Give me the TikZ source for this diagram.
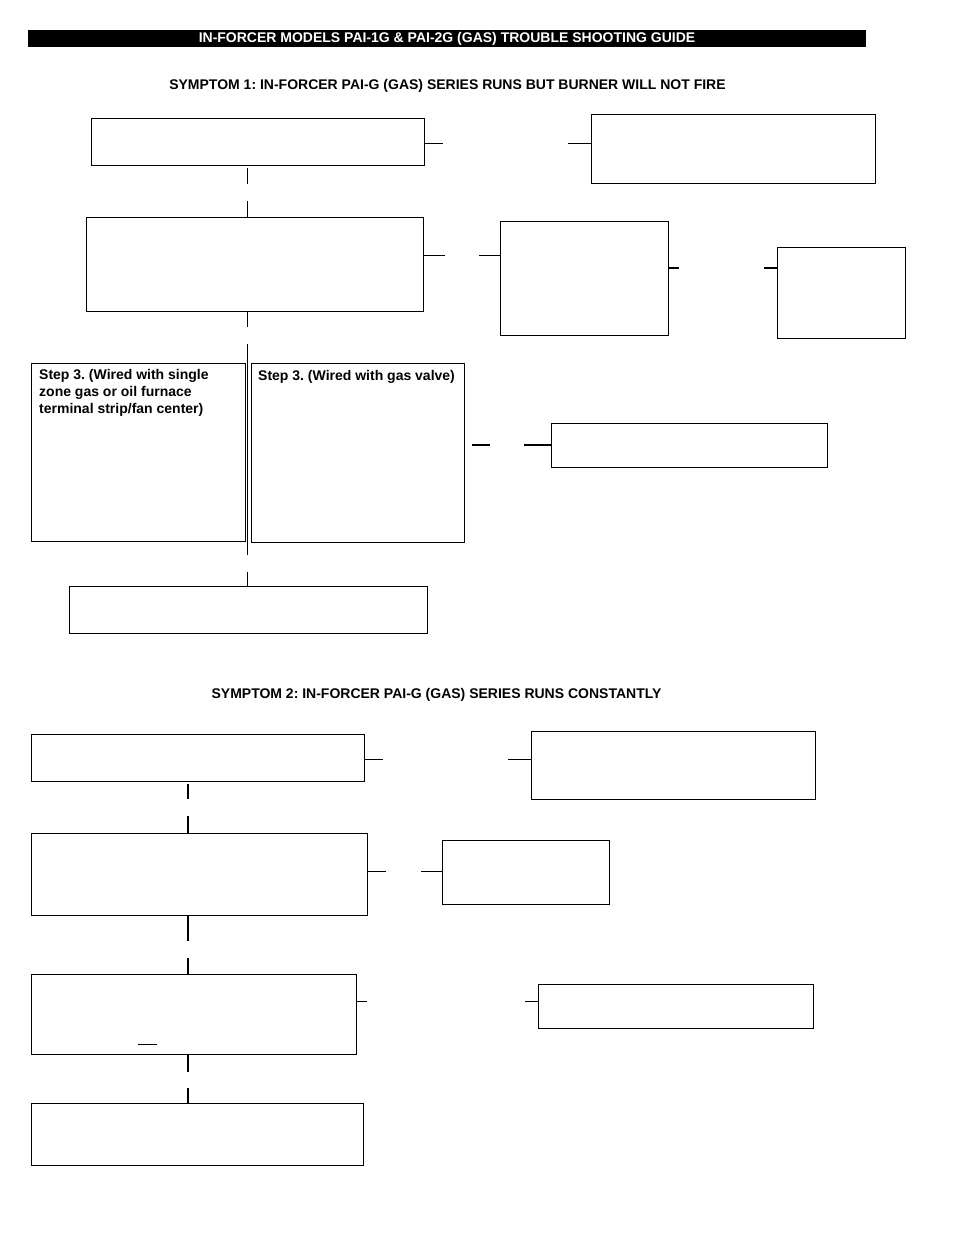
\documentclass[tikz,border=0pt]{standalone}
\usepackage{fontspec}
\setmainfont{Liberation Sans}
\usetikzlibrary{calc}
\frenchspacing
\begin{document}
\begin{tikzpicture}[x=1pt,y=-1pt,
    box/.style={draw,line width=1.2pt,inner sep=0pt,anchor=north west},
    stub/.style={line width=1pt},
    boldstub/.style={line width=2pt},
    head/.style={font=\fontsize{14}{17}\selectfont\bfseries},
    note/.style={head,align=left,inner sep=0pt,anchor=north west}]
  \useasboundingbox (0,0) rectangle (954,1235);
  \coordinate (trunk1) at (247,0);
  \coordinate (trunk2) at (188,0);

  \node[head,fill=black,text=white,inner sep=0pt,minimum width=838,minimum height=17] (title) at (447,38.5)
    {IN-FORCER MODELS PAI-1G \& PAI-2G (GAS) TROUBLE SHOOTING GUIDE};

  % symptom 1
  \node[head,anchor=base] (sym1) at (447.5,89) {SYMPTOM 1: IN-FORCER PAI-G (GAS) SERIES RUNS BUT BURNER WILL NOT FIRE};
  \node[box,minimum width=333,minimum height=47] (chk1) at (91,118) {};
  \node[box,minimum width=284,minimum height=69] (res1) at (591,114) {};
  \node[box,minimum width=337,minimum height=94] (chk2) at (86,217) {};
  \node[box,minimum width=168,minimum height=114] (res2) at (500,221) {};
  \node[box,minimum width=128,minimum height=91] (res3) at (777,247) {};
  \node[box,minimum width=214,minimum height=178] (stepA) at (31,363) {};
  \node[box,minimum width=213,minimum height=179] (stepB) at (251,363) {};
  \node[box,minimum width=276,minimum height=44] (res4) at (551,423) {};
  \node[box,minimum width=358,minimum height=47] (chk4) at (69,586) {};
  \node[note] (stepAtxt) at ($(stepA.north west)+(8,6)$) {Step 3. (Wired with single\\zone gas or oil furnace\\terminal strip/fan center)};
  \node[note] (stepBtxt) at ($(stepB.north west)+(7,7)$) {Step 3. (Wired with gas valve)};

  \draw[stub] (chk1.north east) ++(0,25) -- ++(18,0);
  \draw[stub] (res1.north west) ++(0,29) -- ++(-23,0);
  \draw[stub] (chk2.north east) ++(0,38) -- ++(21,0);
  \draw[stub] (res2.north west) ++(0,34) -- ++(-21,0);
  \draw[boldstub] (res2.north east) ++(0,47) -- ++(10,0);
  \draw[boldstub] (res3.north west) ++(0,21) -- ++(-13,0);
  \draw[boldstub] (stepB.north east) ++(7,82) -- ++(18,0);
  \draw[boldstub] (res4.north west) ++(0,22) -- ++(-27,0);
  \draw[stub] (chk1.south -| trunk1) ++(0,2) -- ++(0,16);
  \draw[stub] (chk2.north -| trunk1) -- ++(0,-16);
  \draw[stub] (chk2.south -| trunk1) -- ++(0,15);
  \draw[stub] (chk2.south -| trunk1) ++(0,32) -- ++(0,211);
  \draw[stub] (chk4.north -| trunk1) -- ++(0,-14);

  % symptom 2
  \node[head,anchor=base] (sym2) at (436.5,698) {SYMPTOM 2: IN-FORCER PAI-G (GAS) SERIES RUNS CONSTANTLY};
  \node[box,minimum width=333,minimum height=47] (chk5) at (31,734) {};
  \node[box,minimum width=284,minimum height=68] (res5) at (531,731) {};
  \node[box,minimum width=336,minimum height=82] (chk6) at (31,833) {};
  \node[box,minimum width=167,minimum height=64] (res6) at (442,840) {};
  \node[box,minimum width=325,minimum height=80] (chk7) at (31,974) {};
  \node[box,minimum width=275,minimum height=44] (res7) at (538,984) {};
  \node[box,minimum width=332,minimum height=62] (chk8) at (31,1103) {};

  \draw[stub] (chk5.north east) ++(0,25) -- ++(18,0);
  \draw[stub] (res5.north west) ++(0,28) -- ++(-23,0);
  \draw[stub] (chk6.north east) ++(0,38) -- ++(18,0);
  \draw[stub] (res6.north west) ++(0,31) -- ++(-21,0);
  \draw[stub] (chk7.north east) ++(0,27) -- ++(10,0);
  \draw[stub] (res7.north west) ++(0,17) -- ++(-13,0);
  \draw[stub] (chk7.south west) ++(107,-11) -- ++(19,0);
  \draw[boldstub] (chk5.south -| trunk2) ++(0,2) -- ++(0,15);
  \draw[boldstub] (chk6.north -| trunk2) -- ++(0,-17);
  \draw[boldstub] (chk6.south -| trunk2) -- ++(0,25);
  \draw[boldstub] (chk7.north -| trunk2) -- ++(0,-16);
  \draw[boldstub] (chk7.south -| trunk2) -- ++(0,17);
  \draw[boldstub] (chk8.north -| trunk2) -- ++(0,-15);
\end{tikzpicture}
\end{document}
